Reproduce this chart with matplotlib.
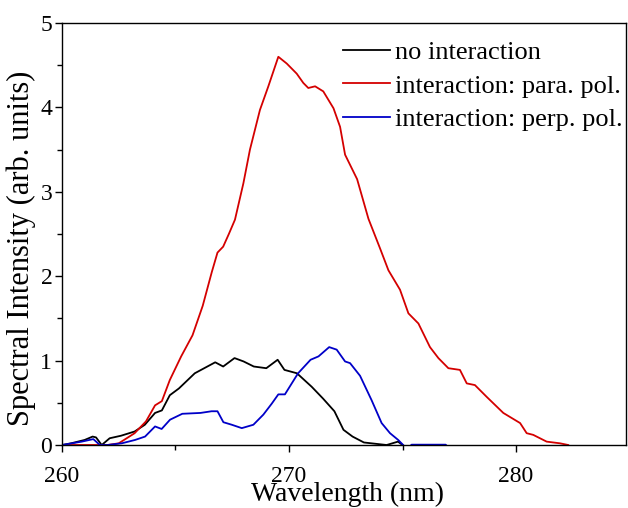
import numpy as np
import matplotlib
matplotlib.use("Agg")
import matplotlib.pyplot as plt
from matplotlib.ticker import MultipleLocator

plt.rcParams['font.family'] = ['Liberation Serif', 'DejaVu Serif']

# --- Data ---
wl_none = [260.0, 260.4, 261.0, 261.35, 261.5, 261.75, 262.1, 262.6, 263.2, 263.65,
           264.1, 264.4, 264.75, 265.15, 265.85, 266.75, 267.1, 267.6, 268.0, 268.45,
           269.0, 269.5, 269.8, 270.35, 271.0, 271.5, 272.0, 272.4, 272.8, 273.3,
           274.3, 274.8, 275.0]
int_none = [0.0, 0.02, 0.06, 0.10, 0.09, 0.0, 0.08, 0.11, 0.16, 0.24,
            0.38, 0.41, 0.59, 0.67, 0.85, 0.98, 0.93, 1.03, 0.99, 0.93,
            0.91, 1.01, 0.89, 0.85, 0.69, 0.55, 0.40, 0.18, 0.10, 0.03,
            0.0, 0.04, 0.0]

wl_para = [260.0, 262.0, 262.5, 263.2, 263.7, 264.1, 264.4, 264.75, 265.25, 265.75,
           266.2, 266.6, 266.85, 267.1, 267.35, 267.62, 267.99, 268.28, 268.72, 269.09,
           269.53, 269.9, 270.34, 270.63, 270.85, 271.15, 271.51, 271.96, 272.25, 272.47,
           273.0, 273.5, 274.01, 274.38, 274.89, 275.26, 275.7, 276.21, 276.58, 277.02,
           277.53, 277.83, 278.19, 278.71, 279.44, 280.18, 280.47, 280.76, 281.35, 281.94,
           282.3]
int_para = [0.0, 0.0, 0.02, 0.14, 0.28, 0.47, 0.52, 0.77, 1.05, 1.30,
            1.65, 2.05, 2.28, 2.35, 2.50, 2.67, 3.10, 3.50, 3.97, 4.25,
            4.60, 4.52, 4.40, 4.29, 4.23, 4.25, 4.19, 3.99, 3.77, 3.44,
            3.15, 2.68, 2.33, 2.07, 1.84, 1.56, 1.44, 1.16, 1.03, 0.91,
            0.89, 0.73, 0.71, 0.57, 0.38, 0.26, 0.14, 0.12, 0.04, 0.02,
            0.0]

wl_perp = [260.0, 260.87, 261.38, 261.67, 262.0, 262.63, 263.22, 263.66, 264.1, 264.39,
           264.76, 265.3, 266.1, 266.59, 266.85, 267.11, 267.48, 267.92, 268.43, 268.87,
           269.24, 269.53, 269.82, 270.4, 270.95, 271.3, 271.77, 272.1, 272.47, 272.69,
           273.13, 273.64, 274.08, 274.45, 274.81, 275.03, 275.2, 275.4, 276.9, 277.1]
int_perp = [0.0, 0.04, 0.07, 0.0, 0.0, 0.02, 0.06, 0.10, 0.22, 0.19,
            0.30, 0.37, 0.38, 0.40, 0.40, 0.27, 0.24, 0.20, 0.24, 0.36,
            0.49, 0.60, 0.60, 0.85, 1.01, 1.05, 1.16, 1.13, 0.99, 0.97,
            0.82, 0.53, 0.26, 0.14, 0.06, 0.0, -0.05, 0.004, 0.004, -0.05]

labels = ['no interaction', 'interaction: para. pol.', 'interaction: perp. pol.']
colors = ['black', '#d40000', '#0000c8']

# --- Plotting ---
fig = plt.figure(figsize=(6.28, 5.08), dpi=100)
ax = fig.add_axes([0.0987, 0.124, 0.8983, 0.8307])

ax.plot(wl_none, int_none, color=colors[0], lw=1.3, label=labels[0])
ax.plot(wl_para, int_para, color=colors[1], lw=1.3, label=labels[1])
ax.plot(wl_perp, int_perp, color=colors[2], lw=1.3, label=labels[2])

ax.set_xlim(260, 284.85)
ax.set_ylim(0, 5)
ax.xaxis.set_major_locator(MultipleLocator(10))
ax.xaxis.set_minor_locator(MultipleLocator(5))
ax.yaxis.set_major_locator(MultipleLocator(1))
ax.yaxis.set_minor_locator(MultipleLocator(0.5))
ax.tick_params(which='both', direction='out', top=False, right=False, labelsize=17, width=1)
ax.tick_params(which='major', length=5)
ax.tick_params(which='minor', length=3.5)
ax.tick_params(axis='x', which='major', pad=10)
ax.tick_params(axis='y', which='major', pad=2)
for sp in ax.spines.values():
    sp.set_linewidth(1.0)

ax.set_xlabel('Wavelength (nm)', fontsize=20)
ax.set_ylabel('Spectral Intensity (arb. units)', fontsize=22)
ax.xaxis.set_label_coords(0.507, -0.087)
ax.yaxis.set_label_coords(-0.046, 0.467)

ax.legend(loc='upper right', frameon=False, fontsize=19, handlelength=1.78,
          handletextpad=0.19, labelspacing=0.37, borderaxespad=0.2,
          bbox_to_anchor=(1.022, 0.995))

fig.savefig('out.png', dpi=100)
